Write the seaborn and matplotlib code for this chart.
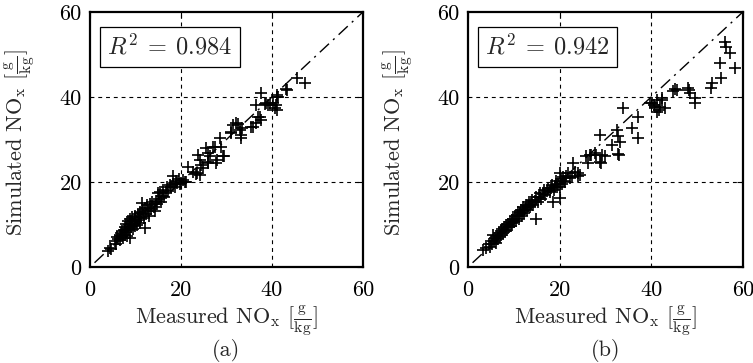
import matplotlib
matplotlib.use("Agg")
import matplotlib.pyplot as plt
import seaborn as sns
import pandas as pd

# ---- data ----
measured_a = [4.0, 4.3, 4.6, 5.5, 5.8, 6.0, 6.2, 6.5, 6.6, 6.8, 7.0, 7.1, 7.3, 7.5, 7.6, 7.8, 7.9, 8.0, 8.1, 8.3,
              8.4, 8.5, 8.7, 8.8, 8.9, 9.0, 9.2, 9.3, 9.4, 9.6, 9.8, 9.9, 10.0, 10.2, 10.4, 10.5, 10.7, 10.9, 11.0, 11.2,
              11.4, 11.5, 11.7, 11.9, 12.1, 12.2, 12.4, 12.6, 12.8, 13.0, 13.2, 13.5, 13.7, 14.0, 14.2, 14.5, 14.8, 15.0, 15.2, 15.4,
              15.6, 15.8, 16.1, 16.3, 16.6, 16.9, 17.2, 17.5, 17.9, 18.2, 18.3, 18.6, 18.9, 19.2, 19.5, 19.8, 20.1, 20.5, 20.9, 21.2,
              21.6, 22.7, 23.3, 23.6, 23.8, 24.2, 24.2, 24.5, 24.9, 25.6, 25.9, 26.0, 26.0, 26.4, 27.1, 27.5, 27.7, 28.0, 28.6, 28.9,
              29.3, 29.5, 30.9, 31.1, 31.5, 32.2, 32.6, 33.0, 33.3, 33.3, 33.5, 35.5, 35.9, 36.6, 36.6, 37.0, 37.4, 37.7, 37.7, 38.4,
              38.8, 39.1, 39.6, 40.3, 40.7, 40.9, 41.0, 41.0, 41.2, 41.4, 43.1, 43.2, 45.4, 47.3]
simulated_a = [3.8, 4.5, 4.2, 6.2, 5.5, 7.0, 6.5, 7.5, 6.3, 8.0, 7.2, 8.5, 6.8, 8.8, 7.6, 9.5, 8.2, 10.0, 7.4, 9.0,
               10.8, 8.6, 9.8, 11.2, 6.8, 9.3, 10.5, 11.8, 8.9, 10.1, 11.5, 9.6, 12.0, 10.8, 9.8, 12.4, 11.0, 13.0, 10.4, 11.8,
               15.0, 12.6, 13.4, 11.6, 9.1, 13.8, 12.5, 14.5, 13.2, 12.0, 14.8, 13.7, 15.3, 14.2, 13.2, 15.6, 14.8, 17.3, 16.0, 17.7,
               15.4, 16.8, 18.1, 16.5, 17.4, 18.9, 17.8, 19.4, 18.9, 19.6, 21.3, 18.8, 20.2, 19.8, 20.8, 19.5, 19.8, 20.4, 20.0, 20.1,
               23.6, 22.4, 21.9, 22.0, 26.4, 25.2, 21.6, 24.0, 23.2, 27.9, 24.8, 26.9, 24.4, 26.0, 28.3, 28.3, 24.4, 25.2, 30.3, 28.3,
               26.0, 26.1, 31.8, 31.5, 33.4, 33.8, 33.6, 32.2, 31.1, 30.3, 32.6, 33.0, 33.0, 33.8, 38.1, 35.4, 35.4, 34.6, 41.0, 38.4,
               38.5, 38.2, 38.1, 38.5, 37.3, 38.1, 40.1, 36.9, 40.5, 39.9, 41.8, 41.6, 44.4, 43.4]

measured_b = [3.3, 4.0, 4.5, 4.8, 5.0, 5.3, 5.5, 5.6, 5.9, 6.1, 6.3, 6.5, 6.7, 6.9, 7.1, 7.3, 7.5, 7.7, 7.9, 8.1,
              8.3, 8.5, 8.7, 8.9, 9.1, 9.3, 9.5, 9.7, 9.9, 10.1, 10.3, 10.5, 10.7, 10.9, 11.1, 11.3, 11.5, 11.7, 11.9, 12.1,
              12.3, 12.5, 12.7, 12.9, 13.1, 13.3, 13.5, 13.8, 14.0, 14.3, 14.6, 14.9, 14.9, 15.2, 15.5, 15.8, 16.0, 16.3, 16.6, 16.9,
              17.2, 17.5, 17.8, 18.1, 18.4, 18.6, 18.7, 19.0, 19.2, 19.4, 19.7, 20.0, 20.1, 20.1, 20.3, 20.5, 20.8, 21.0, 21.2, 21.5,
              21.9, 22.2, 22.6, 23.0, 23.4, 24.0, 24.1, 24.5, 25.8, 26.3, 26.6, 26.9, 27.7, 28.0, 28.8, 28.8, 29.0, 29.2, 29.9, 31.4,
              32.5, 32.8, 32.8, 33.0, 33.2, 33.9, 35.7, 37.2, 37.2, 39.7, 40.1, 40.5, 40.8, 41.2, 41.2, 41.6, 41.9, 42.3, 42.3, 43.0,
              44.8, 45.2, 45.6, 48.1, 48.3, 48.5, 49.6, 49.6, 53.0, 53.2, 55.2, 55.0, 56.1, 56.3, 57.1, 58.3]
simulated_b = [4.0, 4.5, 5.5, 4.8, 6.2, 5.4, 7.5, 6.0, 6.8, 5.6, 7.4, 6.6, 8.0, 7.0, 8.4, 7.6, 8.9, 7.9, 9.3, 8.5,
               9.8, 8.8, 10.2, 9.4, 10.6, 9.7, 11.0, 10.3, 11.4, 10.6, 11.9, 10.9, 12.3, 13.0, 11.4, 12.6, 13.4, 12.0, 13.1, 14.0,
               12.8, 13.7, 14.6, 13.4, 14.3, 15.2, 14.0, 14.8, 15.7, 14.6, 15.6, 11.4, 16.4, 15.3, 16.5, 17.3, 16.0, 17.2, 18.0, 16.9,
               17.9, 18.7, 17.6, 18.6, 19.4, 15.4, 18.2, 19.0, 20.2, 18.9, 19.6, 16.2, 22.0, 18.9, 20.6, 19.6, 21.2, 20.3, 20.1, 21.4,
               22.0, 21.0, 21.2, 24.4, 22.4, 21.3, 22.0, 21.6, 26.0, 24.4, 26.4, 26.4, 26.8, 26.4, 31.1, 24.8, 24.4, 26.4, 26.0, 28.7,
               32.2, 30.8, 26.7, 26.4, 29.5, 37.3, 32.6, 35.4, 30.3, 38.5, 38.5, 38.1, 37.7, 39.3, 36.5, 36.9, 37.7, 39.3, 39.8, 37.3,
               41.3, 41.8, 41.6, 42.0, 41.6, 40.9, 39.7, 38.5, 42.0, 43.2, 44.4, 48.1, 53.0, 51.8, 50.4, 46.8]

r2_values = ["0.984", "0.942"]
panel_tags = ["(a)", "(b)"]
ticks = [0, 20, 40, 60]

# ---- style ----
sns.set_style("white")
plt.rcParams["font.family"] = ["cmr10", "DejaVu Serif"]
plt.rcParams["mathtext.fontset"] = "cm"
plt.rcParams["axes.formatter.use_mathtext"] = True
plt.rcParams["axes.unicode_minus"] = False

FS = 16

fig = plt.figure(figsize=(7.53, 3.63), dpi=100)
ax_a = fig.add_axes([0.1195, 0.2645, 0.3625, 0.7025])
ax_b = fig.add_axes([0.6215, 0.2645, 0.3650, 0.7025])

datasets = [(ax_a, measured_a, simulated_a), (ax_b, measured_b, simulated_b)]
for i, (ax, xm, ys) in enumerate(datasets):
    df = pd.DataFrame({"measured": xm, "simulated": ys})
    ax.plot([1, 60], [1, 60], color="black", linestyle=(0, (9, 4, 1.5, 4)), linewidth=1.0, zorder=2)
    sns.scatterplot(data=df, x="measured", y="simulated", marker="+", color="black",
                    s=64, linewidth=1.2, ax=ax, zorder=3, legend=False)
    ax.set_xlim(0, 60)
    ax.set_ylim(0, 60)
    ax.set_xticks(ticks)
    ax.set_yticks(ticks)
    ax.set_xticklabels([str(t) for t in ticks])
    ax.set_yticklabels([str(t) for t in ticks])
    for g in (20, 40):
        ax.axvline(g, color="black", linestyle=(0, (3.5, 3.5)), linewidth=0.8, zorder=1)
        ax.axhline(g, color="black", linestyle=(0, (3.5, 3.5)), linewidth=0.8, zorder=1)
    ax.tick_params(direction="in", length=4, width=0.8, top=True, right=True,
                   labelsize=FS, colors="black")
    ax.tick_params(axis="x", pad=10)
    ax.tick_params(axis="y", pad=6)
    for sp in ax.spines.values():
        sp.set_linewidth(1.6)
        sp.set_color("black")
    ax.set_xlabel(r"Measured NO$_\mathrm{x}$ [$\frac{\mathrm{g}}{\mathrm{kg}}$]", fontsize=FS)
    ax.set_ylabel(r"Simulated NO$_\mathrm{x}$ [$\frac{\mathrm{g}}{\mathrm{kg}}$]", fontsize=FS)
    ax.xaxis.set_label_coords(0.5, -0.143)
    ax.yaxis.set_label_coords(-0.19, 0.49)
    ax.text(3.8, 51.8, r"$R^2\:=\:$" + r2_values[i], fontsize=FS + 1.5, va="center", ha="left",
            bbox=dict(boxstyle="square,pad=0.3", facecolor="white", edgecolor="black", linewidth=0.9),
            zorder=5)
    pos = ax.get_position()
    fig.text(pos.x0 + pos.width / 2, 0.034, panel_tags[i], fontsize=FS, ha="center", va="center")

fig.savefig("out.png", dpi=100)
